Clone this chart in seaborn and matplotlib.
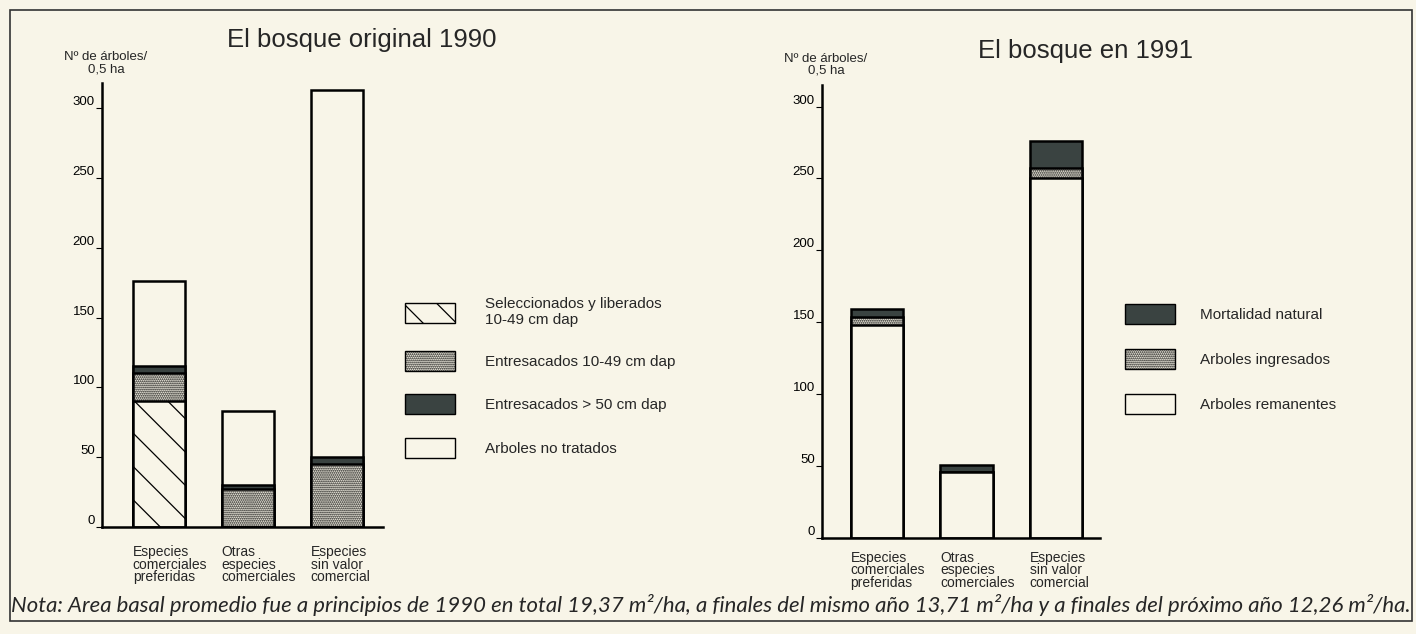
import numpy as np
import pandas as pd
import matplotlib
matplotlib.use("Agg")
import matplotlib.pyplot as plt
import seaborn as sns
from matplotlib.patches import Patch, Rectangle

# ----------------------------------------
# Data
# ----------------------------------------

categories = [
    "Especies\ncomerciales\npreferidas",
    "Otras\nespecies\ncomerciales",
    "Especies\nsin valor\ncomercial",
]

# El bosque original 1990 (stacked from bottom)
seleccionados = [90, 0, 0]
entresacados_10_49 = [20, 27, 45]
entresacados_50 = [5, 3, 5]
no_tratados = [61, 53, 263]

# El bosque en 1991 (stacked from bottom)
remanentes = [148, 46, 250]
ingresados = [6, 0, 7]
mortalidad = [5, 5, 19]

yticks = [0, 50, 100, 150, 200, 250, 300]

# ----------------------------------------
# Style
# ----------------------------------------

BG = "#f8f5e8"
DARK = "#3a4341"
DOTS = "........"
sns.set_theme(style="white")
plt.rcParams["font.family"] = ["Liberation Sans", "DejaVu Sans"]
plt.rcParams["hatch.linewidth"] = 0.9
plt.rcParams["hatch.color"] = "black"

fig = plt.figure(figsize=(14.16, 6.34), dpi=100, facecolor=BG)

ax1 = fig.add_axes([0.0718, 0.1688, 0.1987, 0.700])
ax2 = fig.add_axes([0.5803, 0.1514, 0.1965, 0.7145])

BAR_W = 0.59


def stacked(ax, segments, styles):
    # draw cumulative totals, tallest first, so lower segments cover them
    cum = np.cumsum(np.array(segments, dtype=float), axis=0)
    for i in range(len(segments) - 1, -1, -1):
        face, hatch = styles[i]
        df = pd.DataFrame({"cat": categories, "val": cum[i]})
        sns.barplot(
            data=df, x="cat", y="val", ax=ax,
            color=face, saturation=1, hatch=hatch,
            edgecolor="black", linewidth=1.8,
            width=BAR_W, errorbar=None,
        )


stacked(
    ax1,
    [seleccionados, entresacados_10_49, entresacados_50, no_tratados],
    [(BG, "\\"), (BG, DOTS), (DARK, None), (BG, None)],
)
stacked(
    ax2,
    [remanentes, ingresados, mortalidad],
    [(BG, None), (BG, DOTS), (DARK, None)],
)

for ax, xlim, ylim, pad in [(ax1, (-0.644, 2.517), (0, 318), 7),
                            (ax2, (-0.618, 2.49), (0, 315), 3)]:
    ax.set_facecolor(BG)
    ax.set_xlim(*xlim)
    ax.set_ylim(*ylim)
    ax.set_xlabel("")
    ax.set_ylabel("")
    for s in ["top", "right"]:
        ax.spines[s].set_visible(False)
    for s in ["left", "bottom"]:
        ax.spines[s].set_color("black")
        ax.spines[s].set_linewidth(1.8)
    ax.set_yticks(yticks)
    ax.set_yticklabels([str(t) for t in yticks], fontsize=9.5, va="bottom")
    ax.tick_params(axis="y", left=True, direction="out", length=4,
                   width=0.8, pad=1, colors="black")
    ax.set_xticks(np.arange(len(categories)) - BAR_W / 2)
    ax.set_xticklabels(categories, fontsize=10, ha="left",
                       linespacing=0.88)
    ax.tick_params(axis="x", bottom=False, pad=pad)

# ----------------------------------------
# Titles and axis labels
# ----------------------------------------

fig.text(227 / 1416, 0.937, "El bosque original 1990", fontsize=18.5,
         ha="left", va="center")
fig.text(978 / 1416, 0.919, "El bosque en 1991", fontsize=18.5,
         ha="left", va="center")
fig.text(106 / 1416, 0.90, "Nº de árboles/\n0,5 ha", fontsize=9.5,
         ha="center", va="center", linespacing=1.0)
fig.text(826 / 1416, 0.898, "Nº de árboles/\n0,5 ha", fontsize=9.5,
         ha="center", va="center", linespacing=1.0)

# ----------------------------------------
# Legends
# ----------------------------------------

leg1 = [
    Patch(facecolor=BG, edgecolor="black", hatch="\\",
          label="Seleccionados y liberados\n10-49 cm dap"),
    Patch(facecolor=BG, edgecolor="black", hatch=DOTS,
          label="Entresacados 10-49 cm dap"),
    Patch(facecolor=DARK, edgecolor="black", label="Entresacados > 50 cm dap"),
    Patch(facecolor=BG, edgecolor="black", label="Arboles no tratados"),
]
ax1.legend(handles=leg1, loc="upper left",
           bbox_to_anchor=(405 / 1416, 1 - 297 / 634),
           bbox_transform=fig.transFigure, frameon=False, fontsize=11,
           handlelength=3.27, handleheight=1.63, handletextpad=1.96,
           labelspacing=1.55, borderpad=0, borderaxespad=0)

leg2 = [
    Patch(facecolor=DARK, edgecolor="black", label="Mortalidad natural"),
    Patch(facecolor=BG, edgecolor="black", hatch=DOTS,
          label="Arboles ingresados"),
    Patch(facecolor=BG, edgecolor="black", label="Arboles remanentes"),
]
ax2.legend(handles=leg2, loc="upper left",
           bbox_to_anchor=(1125 / 1416, 1 - 304 / 634),
           bbox_transform=fig.transFigure, frameon=False, fontsize=11,
           handlelength=3.27, handleheight=1.63, handletextpad=1.63,
           labelspacing=1.65, borderpad=0, borderaxespad=0)

# ----------------------------------------
# Note and frame
# ----------------------------------------

fig.text(0.008, 0.046,
         "Nota: Area basal promedio fue a principios de 1990 en total "
         "19,37 m²/ha, a finales del mismo año 13,71 m²/ha y a finales "
         "del próximo año 12,26 m²/ha.",
         fontsize=15.9, style="italic", family=["Lato", "DejaVu Sans"],
         ha="left", va="center")

fig.add_artist(Rectangle((0.007, 0.02), 0.990, 0.965,
                         transform=fig.transFigure, fill=False,
                         edgecolor="#333333", linewidth=1.2))

plt.savefig("out.png", dpi=100, facecolor=BG)
